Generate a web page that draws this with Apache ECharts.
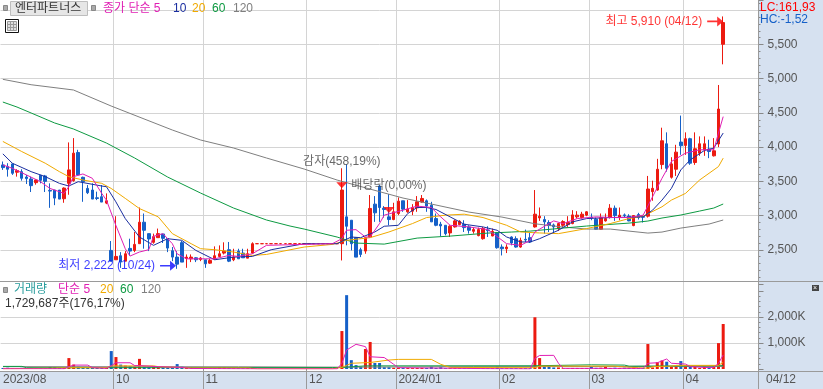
<!DOCTYPE html>
<html><head><meta charset="utf-8">
<style>html,body{margin:0;padding:0;background:#d6e1f0}#c{width:823px;height:389px}</style>
<script src="https://cdn.jsdelivr.net/npm/echarts@6/dist/echarts.min.js"></script>
</head><body><div id="c"></div>
<script>
const slotCount = 161;
const monthLabels = {0:'2023/08',24:'10',43:'11',65:'12',84:'2024/01',106:'02',125:'03',145:'04'};
const lastDate = '04/12';
const opens = [3740,3716,3755,3633,3642,3564,3535,3481,3589,3579,3368,3373,3373,3246,3471,3510,3922,3559,3397,3373,3260,3275,3182,2491,2354,2413,2334,2520,2491,2589,2903,2736,2609,2677,2731,2662,2486,2393,2604,2373,2368,2383,2359,2354,2305,2368,2403,2452,2501,2354,2481,2452,2378,2452,
2589,2589,2589,2589,2589,2589,2589,2589,2589,2589,2589,2589,2589,2589,2589,2589,2589,2589,
2589,2981,2932,2677,2501,2481,2687,3167,3432,3108,2981,2942,3030,3216,3055,3064,3113,3197,3216,3152,2956,2873,2858,2746,2834,2868,2873,2834,2770,2707,2662,2790,2702,2751,2540,2515,2687,2662,2540,2653,2677,2834,2966,2942,2898,2863,2810,2858,2868,2883,2981,2971,3006,2976,2947,2800,2922,2971,3108,2971,3010,2991,2854,3015,2986,2991,3349,3373,3745,4049,3559,3677,4074,4025,4123,3775,3912,3961,3971,3873,4046,5503];
const closes = [3701,3677,3618,3657,3545,3540,3437,3520,3515,3500,3358,3255,3241,3402,3667,3912,3594,3495,3334,3241,3250,3197,3216,2334,2403,2320,2442,2481,2579,2903,2785,2658,2692,2736,2667,2525,2393,2290,2320,2393,2393,2354,2378,2295,2344,2413,2442,2481,2334,2393,2368,2383,2442,2589,
2589,2589,2589,2589,2589,2589,2589,2589,2589,2589,2589,2589,2589,2589,2589,2589,2589,2589,
3373,2844,2589,2393,2432,2677,3104,3040,3118,3089,2942,3055,3211,3094,3094,3118,3201,3250,3138,2908,2858,2849,2736,2844,2922,2917,2824,2785,2795,2795,2810,2780,2770,2530,2515,2540,2599,2540,2638,2643,2614,3020,2991,2908,2854,2834,2883,2912,2898,3010,3006,3020,3055,2966,2800,2971,2956,3108,3000,3006,3000,2922,3000,2971,2976,3388,3398,3677,4093,3691,3755,3927,4020,4123,3765,3976,4049,4049,3936,3946,4557,5820];
const highs = [3790,3765,3755,3677,3677,3594,3569,3530,3594,3594,3471,3373,3373,3412,4069,4132,3961,3569,3446,3471,3349,3446,3324,2628,2991,2466,2481,2662,2760,3118,3030,2736,2736,2810,2731,2662,2540,2481,2628,2432,2432,2393,2393,2354,2368,2550,2564,2609,2614,2515,2515,2515,2515,2609,
2589,2589,2589,2589,2589,2589,2589,2589,2589,2589,2589,2589,2589,2589,2589,2589,2589,2589,
3691,3750,2932,2677,2530,2677,3300,3285,3447,3138,3314,3187,3265,3216,3226,3167,3285,3300,3236,3201,3030,2908,2858,2858,2942,2932,2932,2858,2824,2824,2834,2844,2810,2751,2579,2579,2697,2697,2677,2795,2746,3373,3118,2991,2932,2883,2893,2932,2991,3079,3064,3055,3064,3030,2971,3030,3030,3167,3147,3118,3030,3020,3006,3040,3006,3579,3510,3829,4284,4216,3853,4034,4461,4216,4137,4216,4157,4157,4108,4132,4908,5910];
const lows = [3667,3569,3594,3569,3510,3461,3344,3451,3471,3344,3113,3152,3241,3187,3304,3495,3594,3201,3314,3241,3226,3197,3167,2334,2354,2236,2334,2417,2466,2589,2516,2481,2589,2677,2599,2466,2334,2222,2320,2236,2320,2320,2334,2236,2295,2354,2393,2432,2320,2334,2368,2383,2378,2442,
2589,2589,2589,2589,2589,2589,2589,2589,2589,2589,2589,2589,2589,2589,2589,2589,2589,2589,
2344,2565,2491,2393,2393,2442,2677,2908,2908,2971,2859,2932,3006,3055,3040,3006,3055,3187,3055,2908,2844,2697,2711,2687,2824,2858,2760,2736,2736,2697,2648,2687,2697,2516,2417,2452,2565,2530,2530,2614,2599,2824,2922,2736,2760,2736,2775,2834,2834,2873,2956,2956,2991,2932,2795,2795,2912,2956,2922,2932,2971,2917,2844,2942,2898,2971,3216,3363,3677,3642,3540,3579,3887,3887,3741,3741,3873,3873,3839,3863,4000,5210];
const ma5 = [[0,3740],[2,3691],[5,3594],[8,3495],[10,3397],[13,3324],[14,3422],[15,3569],[17,3608],[19,3545],[21,3324],[22,3226],[24,2858],[26,2516],[27,2408],[29,2467],[31,2501],[32,2697],[34,2736],[36,2589],[37,2442],[39,2368],[43,2368],[45,2368],[48,2417],[50,2403],[53,2442],[56,2565],[70,2589],[72,2662],[73,2785],[75,2795],[77,2687],[78,2687],[80,2883],[81,3006],[85,3079],[88,3138],[91,3118],[93,2981],[95,2858],[99,2834],[103,2795],[107,2589],[110,2565],[112,2638],[113,2760],[116,2883],[117,2922],[119,2883],[122,2956],[126,2981],[130,2971],[133,2971],[136,3006],[138,3275],[140,3545],[142,3790],[145,3912],[148,3961],[151,3961],[152,4206],[153,4446]];
const ma10 = [[0,3902],[2,3765],[6,3642],[9,3569],[12,3471],[14,3432],[16,3495],[21,3432],[22,3422],[24,3201],[26,2956],[29,2687],[32,2565],[35,2662],[38,2638],[41,2491],[45,2354],[49,2393],[53,2403],[57,2501],[64,2589],[71,2589],[74,2687],[76,2677],[79,2760],[81,2844],[84,2858],[86,3030],[88,3118],[90,3118],[92,3089],[95,2981],[98,2873],[102,2834],[105,2785],[107,2687],[110,2614],[112,2614],[114,2662],[118,2785],[121,2908],[124,2956],[129,2971],[136,2981],[138,3079],[140,3226],[142,3397],[144,3667],[146,3814],[149,3951],[151,3986],[153,4206]];
const ma20 = [[0,4083],[4,3936],[9,3765],[12,3642],[14,3569],[17,3520],[21,3471],[23,3397],[26,3251],[29,3103],[33,2981],[36,2736],[40,2589],[42,2516],[45,2501],[49,2467],[53,2417],[56,2432],[64,2540],[70,2579],[73,2638],[78,2677],[82,2760],[87,2883],[90,2971],[94,3006],[98,3020],[102,2971],[107,2858],[110,2760],[114,2746],[118,2736],[124,2810],[129,2883],[133,2956],[136,2991],[140,3128],[142,3226],[145,3324],[148,3520],[152,3716],[153,3839]];
const ma60 = [[0,4659],[3,4586],[6,4499],[11,4353],[15,4265],[22,4060],[28,3841],[35,3563],[42,3329],[49,3110],[56,2935],[61,2847],[64,2803],[71,2686],[75,2598],[81,2583],[88,2671],[95,2700],[103,2744],[108,2759],[112,2773],[119,2817],[124,2847],[133,2890],[137,2920],[140,2964],[144,3008],[148,3066],[151,3110],[153,3169]];
const ma120 = [[0,4991],[6,4912],[15,4835],[23,4601],[36,4250],[42,4104],[49,3987],[56,3841],[64,3680],[71,3519],[78,3387],[85,3256],[92,3154],[99,3051],[106,2978],[113,2880],[119,2832],[124,2803],[129,2803],[133,2773],[137,2744],[140,2759],[144,2817],[147,2847],[150,2876],[153,2935]];
const volumes = [40,50,35,30,45,30,40,25,35,30,80,75,45,60,420,170,90,60,50,55,40,50,45,690,460,170,130,110,90,390,90,70,80,75,60,55,55,190,90,60,35,20,30,30,25,30,60,70,50,30,30,25,30,50,
0,0,0,0,0,0,0,0,0,0,0,0,0,0,0,0,0,0,
1460,2840,340,150,85,770,1040,230,230,70,70,50,50,
40,40,35,40,45,40,90,40,70,30,
30,30,30,30,30,30,30,30,30,30,90,
30,30,30,30,30,30,30,
1990,420,130,130,60,60,30,30,40,40,40,40,90,45,50,80,40,50,40,50,50,60,40,40,960,60,260,330,280,100,100,305,150,110,100,40,100,60,100,995,1730];
const volMa5 = [[0,10],[13,10],[14,90],[15,150],[18,150],[19,50],[22,25],[23,130],[24,240],[27,240],[28,130],[29,130],[33,90],[36,70],[38,60],[40,20],[54,5],[71,5],[72,220],[73,730],[75,950],[77,860],[78,470],[81,440],[83,180],[84,50],[105,10],[112,5],[113,410],[114,520],[117,525],[118,220],[119,25],[136,25],[137,220],[139,240],[141,385],[142,220],[145,190],[146,90],[149,60],[151,60],[152,220],[153,540]];
const volMa20 = [[0,10],[10,30],[14,50],[22,50],[23,120],[32,120],[33,90],[40,40],[52,40],[54,10],[70,10],[72,60],[74,220],[78,250],[82,345],[84,370],[91,370],[93,180],[95,60],[113,50],[114,110],[130,110],[131,90],[135,50],[137,30],[138,90],[142,110],[143,140],[152,140],[153,256]];
const volMa60 = [[0,100],[4,100],[5,50],[22,50],[70,55],[72,60],[77,120],[113,125],[125,160],[132,150],[133,110],[152,125],[153,130]];
const volMa120 = [[0,90],[50,85],[72,70],[100,90],[153,100]];
const priceTicks = {min:2000,max:6150,step:500};
const volTicks = {max:3000000,step:1000000};

const RED='#ec1a10',BLUE='#1560c8',MAG='#e01fb4',NAVY='#1a2ea0',ORG='#f0aa00',GRN='#0d9a42',GRY='#7f7f7f',GRID='#d4d4d4',AX='#9a9a9a',TXT='#555';
const FF='"Liberation Sans","Noto Sans CJK KR",sans-serif';
const monthIdx=(i)=>monthLabels[i]!==undefined;
const categories=Array.from({length:slotCount},(_,i)=>monthLabels[i]||('d'+i));
const ohlc=opens.map((o,i)=>[o,closes[i],lows[i],highs[i]]);
const volData=volumes.map((v,i)=>({value:v*1000,itemStyle:{color:closes[i]>=opens[i]?RED:BLUE}}));
const line=(data,color,x,y)=>({type:'line',data,xAxisIndex:x,yAxisIndex:y,symbol:'none',smooth:false,lineStyle:{width:1,color},itemStyle:{color},silent:true,z:3});
const toK=a=>a.map(p=>[p[0],p[1]*1000]);
const ARROW='path://M0 4.2L10 4.2L10 0L16 5L10 10L10 5.8L0 5.8Z';
const TRI='path://M0 0L11 0L5.5 6Z';
const LF={fontFamily:FF,fontSize:12};
const notes=[
 {value:[153,5910],symbol:ARROW,symbolSize:[16,10],symbolOffset:[-8,5],itemStyle:{color:'#f00'},label:{show:true,position:'left',distance:5,formatter:'최고 5,910 (04/12)',color:'#f00',...LF}},
 {value:[37,2222],symbol:ARROW,symbolSize:[16,10],symbolOffset:[-9,-3],itemStyle:{color:'#0a0aff'},label:{show:true,position:'left',distance:5,formatter:'최저 2,222 (10/24)',color:'#0a0aff',...LF}},
 {value:[72,3691],symbol:TRI,symbolSize:[11,6],symbolOffset:[0,17],itemStyle:{color:'#f00'},label:{show:true,position:'top',distance:15,formatter:'감자(458,19%)',color:'#444',...LF}},
 {value:[82,3314],symbol:TRI,symbolSize:[11,6],symbolOffset:[0,16],itemStyle:{color:'#f00'},label:{show:true,position:'top',distance:15,formatter:'배당락(0,00%)',color:'#444',...LF}}
];
const T=(x,y,text,fill,extra)=>({type:'text',x,y,z:20,silent:true,style:{text,fill,font:'12px '+FF,textVerticalAlign:'middle',verticalAlign:'middle',...(extra||{})}});
const R=(x,y,w,h,fill,stroke,z)=>({type:'rect',z:z===undefined?20:z,silent:true,shape:{x,y,width:w,height:h},style:{fill,stroke:stroke||null,lineWidth:1}});
const graphics=[
 R(0,0,758.5,371,'#fff',null,-1),
 R(758,0,1,389,AX,null,10), R(0,281,823,1,AX,null,10), R(0,371,823,1,AX,null,10),
 R(3.5,5.5,4,5,'#aaa','#888'), R(10.5,1.5,77,14,'#e6e6e6','#bdbdbd'), R(91.5,5.5,4,5,'#aaa','#888'),
 T(15,8.5,'엔터파트너스','#333'),
 T(103,8.5,'종가 단순 5',MAG), T(173,8.5,'10',NAVY), T(192,8.5,'20',ORG), T(212,8.5,'60',GRN), T(233,8.5,'120',GRY),
 R(5.5,19.5,13,13,'#fff','#111'), R(7.5,21.5,9,9,'#ddd','#999'), R(10.5,21.5,3,9,null,'#999'), R(7.5,24.5,9,3,null,'#999'),
 T(760,7.5,'LC:161,93','#f00'), T(760,19.5,'HC:-1,52',BLUE),
 R(3.5,287.5,4,5,'#aaa','#888'),
 T(14,290,'거래량','#2a9d9d'), T(58,290,'단순 5',MAG), T(100,290,'20',ORG), T(120,290,'60',GRN), T(141,290,'120',GRY),
 T(5,303.5,'1,729,687주(176,17%)','#333'),
 T(766,379.5,lastDate,TXT),
 R(812,285,7,6,'#444',null), T(813,288,'×','#fff',{font:'7px '+FF})
];
const chart=echarts.init(document.getElementById('c'),null,{renderer:'canvas'});
const xBase={type:'category',data:categories,boundaryGap:true,axisLine:{show:false},axisPointer:{show:false}};
chart.setOption({
 animation:false,backgroundColor:'#d6e1f0',
 grid:[{left:0.5,top:0,width:758,height:284,show:false},{left:0.5,top:291,width:758,height:78,show:false}],
 xAxis:[
  {...xBase,gridIndex:0,axisTick:{show:false},axisLabel:{show:false},splitLine:{show:true,interval:(i)=>monthIdx(i)&&i>0,lineStyle:{color:GRID,width:1}}},
  {...xBase,gridIndex:1,position:'bottom',axisTick:{show:true,length:20,interval:(i)=>monthIdx(i)&&i>0,lineStyle:{color:AX}},
   axisLabel:{show:true,interval:(i)=>monthIdx(i),formatter:(v)=>v,align:'left',margin:5,color:TXT,fontFamily:FF,fontSize:12},
   splitLine:{show:true,interval:(i)=>monthIdx(i)&&i>0,lineStyle:{color:GRID,width:1}}},
  {...xBase,gridIndex:1,position:'top',axisTick:{show:true,length:10,interval:(i)=>monthIdx(i)&&i>0,lineStyle:{color:GRID}},axisLabel:{show:false},splitLine:{show:false}}
 ],
 yAxis:[
  {type:'value',gridIndex:0,position:'right',min:priceTicks.min,max:priceTicks.max,interval:priceTicks.step,scale:true,
   axisLine:{show:true,lineStyle:{color:AX}},axisTick:{show:true,length:5,lineStyle:{color:'#888'}},
   minorTick:{show:true,splitNumber:5,length:2,lineStyle:{color:'#888'}},
   axisLabel:{margin:9,color:TXT,fontFamily:FF,fontSize:12,showMinLabel:false,showMaxLabel:false,formatter:(v)=>(v===6000||v===2000||v>6000)?'':v.toLocaleString('en-US')},
   splitLine:{show:true,showMinLine:false,showMaxLine:false,lineStyle:{color:GRID,width:1}}},
  {type:'value',gridIndex:1,position:'right',min:0,max:volTicks.max,interval:volTicks.step,
   axisLine:{show:true,lineStyle:{color:AX}},axisTick:{show:true,length:5,lineStyle:{color:'#888'}},
   minorTick:{show:true,splitNumber:5,length:2,lineStyle:{color:'#888'}},
   axisLabel:{margin:9,color:TXT,fontFamily:FF,fontSize:12,showMinLabel:false,showMaxLabel:false,formatter:(v)=>(v/1000).toLocaleString('en-US')+'K'},
   splitLine:{show:true,showMinLine:false,showMaxLine:false,lineStyle:{color:GRID,width:1}}}
 ],
 series:[
  {type:'candlestick',data:ohlc,xAxisIndex:0,yAxisIndex:0,barWidth:3,silent:true,z:2,itemStyle:{color:RED,color0:BLUE,borderColor:RED,borderColor0:BLUE,borderColorDoji:RED,borderWidth:1}},
  line(ma120,GRY,0,0),line(ma60,GRN,0,0),line(ma20,ORG,0,0),line(ma10,NAVY,0,0),line(ma5,MAG,0,0),
  {type:'scatter',data:notes,xAxisIndex:0,yAxisIndex:0,silent:true,z:5,clip:false},
  {type:'bar',data:volData,xAxisIndex:1,yAxisIndex:1,barWidth:3,silent:true,z:2},
  line(toK(volMa120),GRY,1,1),line(toK(volMa60),GRN,1,1),line(toK(volMa20),ORG,1,1),line(toK(volMa5),MAG,1,1)
 ],
 graphic:graphics
});
</script></body></html>
